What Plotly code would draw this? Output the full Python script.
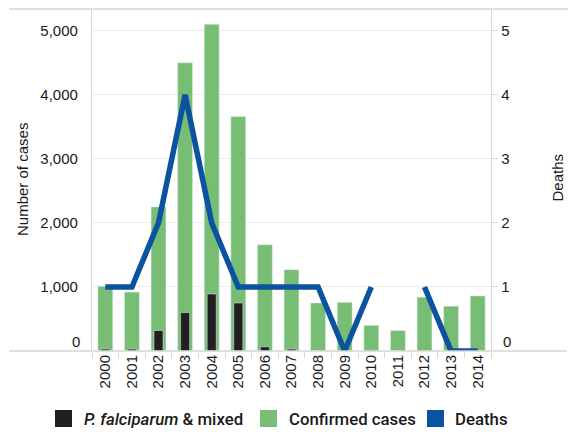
import plotly.graph_objects as go

years = [str(y) for y in range(2000, 2015)]
confirmed = [1010, 920, 2250, 4500, 5100, 3660, 1660, 1270, 750, 760, 400, 320, 840, 700, 860]
falciparum = [30, 30, 320, 600, 890, 750, 65, 30, 0, 0, 15, 0, 0, 0, 0]
deaths = [1, 1, 2, 4, 2, 1, 1, 1, 1, 0, 1, None, 1, 0, 0]

GREEN = "#78bd74"
BLACK = "#231f20"
BLUE = "#0b52a0"
AXIS = "#d6d6d6"
GRID = "#ececec"
TXT = "#1a1a1a"

FW, FH = 568, 432
# plot area in screen pixels
L, R, T, B = 92, 491, 9, 351
W, H = R - L, B - T


def px(x):
    return (x - L) / W


def py(y):
    return (B - y) / H


fig = go.Figure()
fig.add_trace(go.Bar(x=years, y=confirmed, marker_color=GREEN, width=0.56,
                     name="Confirmed cases", showlegend=False))
fig.add_trace(go.Bar(x=years, y=falciparum, marker_color=BLACK, width=0.34,
                     name="P. falciparum & mixed", showlegend=False))
fig.add_trace(go.Scatter(x=years, y=deaths, yaxis="y2", mode="lines",
                         line=dict(color=BLUE, width=5.5), connectgaps=False,
                         name="Deaths", showlegend=False))

tickfont = dict(family="Liberation Sans, Arial", size=15, color=TXT)

fig.update_layout(
    width=FW, height=FH,
    margin=dict(l=L, r=FW - R, t=T, b=FH - B),
    paper_bgcolor="white", plot_bgcolor="white",
    barmode="overlay",
    xaxis=dict(type="category", tickson="boundaries", ticks="outside", ticklen=6,
               tickcolor=AXIS, tickwidth=1.3, tickangle=-90, tickfont=tickfont,
               showgrid=False, showline=False, zeroline=False, automargin=False),
    yaxis=dict(range=[0, 5340], tickvals=[1000, 2000, 3000, 4000, 5000],
               ticktext=["1,000", "2,000", "3,000", "4,000", "5,000"],
               tickfont=tickfont, showgrid=True, gridcolor=GRID, gridwidth=1.3,
               ticks="", ticklabelstandoff=10, showline=True, linecolor=AXIS,
               linewidth=1.3, zeroline=False, automargin=False),
    yaxis2=dict(range=[0, 5.34], overlaying="y", side="right",
                tickvals=[1, 2, 3, 4, 5], tickfont=tickfont, showgrid=False,
                ticks="outside", ticklen=6, tickcolor=AXIS, tickwidth=1.3,
                showline=True, linecolor=AXIS, linewidth=1.3, zeroline=False,
                automargin=False),
)

shapes = [
    dict(type="line", xref="paper", yref="paper", x0=px(9), x1=px(568), y0=1, y1=1,
         line=dict(color=AXIS, width=1.3)),
    dict(type="line", xref="paper", yref="paper", x0=px(9), x1=px(567), y0=0, y1=0,
         line=dict(color=AXIS, width=1.3)),
]
annotations = [
    dict(text="0", xref="paper", yref="paper", x=px(82), y=py(341), xanchor="right",
         yanchor="middle", showarrow=False, font=tickfont),
    dict(text="0", xref="paper", yref="paper", x=px(501), y=py(341), xanchor="left",
         yanchor="middle", showarrow=False, font=tickfont),
    dict(text="Number of cases", xref="paper", yref="paper", x=px(22), y=py(180),
         xanchor="center", yanchor="middle", textangle=-90, showarrow=False, font=tickfont),
    dict(text="Deaths", xref="paper", yref="paper", x=px(557.5), y=py(178),
         xanchor="center", yanchor="middle", textangle=-90, showarrow=False, font=tickfont),
]

legend_items = [
    (BLACK, "<i>P. falciparum</i> & mixed", 55, 82),
    (GREEN, "Confirmed cases", 260, 287),
    (BLUE, "Deaths", 427, 453),
]
legfont = dict(family="Roboto", size=16.8, color=TXT, weight=500)
for color, label, sx, tx in legend_items:
    shapes.append(dict(type="rect", xref="paper", yref="paper", x0=px(sx), x1=px(sx + 17),
                       y0=py(427), y1=py(410), fillcolor=color, line=dict(width=0)))
    annotations.append(dict(text=label, xref="paper", yref="paper", x=px(tx), y=py(419),
                            xanchor="left", yanchor="middle", showarrow=False, font=legfont))

fig.update_layout(shapes=shapes, annotations=annotations)
fig.write_html("out.html", config={"displayModeBar": False},
               post_script="document.body.style.margin='0';document.body.style.overflow='hidden';")
